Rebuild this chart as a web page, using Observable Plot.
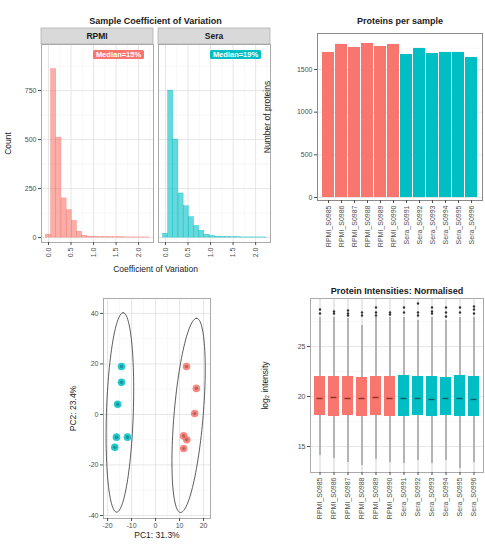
<!DOCTYPE html>
<html><head><meta charset="utf-8">
<script src="https://cdn.jsdelivr.net/npm/d3@7"></script>
<script src="https://cdn.jsdelivr.net/npm/@observablehq/plot@0.6"></script>
<style>
body{margin:0;background:#fff;}
#root{position:relative;width:485px;height:547px;overflow:hidden;background:#fff;}
#root > div{position:absolute;}
</style></head><body><div id="root"></div>
<script>
// ---------- data ----------
const groups = ["RPMI", "Sera"];
const groupColors = ["#F8766D", "#00BFC4"];

const cvBinCenters = [0, 0.115, 0.23, 0.345, 0.46, 0.575, 0.69, 0.805, 0.92, 1.035, 1.15, 1.265, 1.38, 1.495, 1.61, 1.725, 1.84, 1.955, 2.07, 2.185];
const cvBinWidth = 0.115;
const rpmiCvCounts = [15, 860, 510, 200, 140, 85, 30, 10, 5, 4, 3, 3, 2, 2, 2, 1, 1, 1, 1, 1];
const seraCvCounts = [20, 750, 500, 225, 160, 105, 60, 35, 15, 8, 5, 4, 3, 2, 2, 1, 1, 1, 1, 1];
const cvMedianLabels = ["Median=15%", "Median=19%"];
const cvXTicks = [0, 0.5, 1, 1.5, 2];
const cvXMinor = [0.25, 0.75, 1.25, 1.75, 2.25];
const cvYTicks = [0, 250, 500, 750];
const cvYMinor = [125, 375, 625, 875];

const samples = ["RPMI_S0985", "RPMI_S0986", "RPMI_S0987", "RPMI_S0988", "RPMI_S0989", "RPMI_S0990",
                 "Sera_S0991", "Sera_S0992", "Sera_S0993", "Sera_S0994", "Sera_S0995", "Sera_S0996"];
const sampleGroups = ["RPMI", "RPMI", "RPMI", "RPMI", "RPMI", "RPMI", "Sera", "Sera", "Sera", "Sera", "Sera", "Sera"];
const proteinCounts = [1700, 1794, 1758, 1805, 1770, 1794, 1676, 1747, 1688, 1700, 1700, 1641];
const proteinTicks = [0, 500, 1000, 1500];

const pcaGroups = ["Sera", "Sera", "Sera", "Sera", "Sera", "Sera", "RPMI", "RPMI", "RPMI", "RPMI", "RPMI", "RPMI"];
const pc1 = [-14.2, -14.2, -15.8, -16.3, -11.7, -17.0, 12.9, 17.0, 16.3, 11.7, 13.0, 11.7];
const pc2 = [19.0, 12.7, 4.0, -9.0, -9.0, -13.0, 19.0, 10.3, 0.4, -8.5, -10.0, -13.5];
const pcTicks = [-40, -20, 0, 20, 40];
const pc1Ticks = [-20, -10, 0, 10, 20];

const boxLow = [14.1, 13.8, 13.4, 13.1, 13.7, 13.4, 13.3, 13.6, 13.3, 13.6, 12.8, 13.4];
const boxQ1 = [18.1, 18.0, 18.1, 18.0, 18.1, 18.0, 18.0, 18.1, 18.0, 18.1, 18.0, 18.0];
const boxMedian = [19.8, 19.9, 19.8, 19.8, 19.9, 19.8, 19.8, 19.8, 19.7, 19.8, 19.8, 19.7];
const boxQ3 = [22.0, 22.0, 22.0, 21.9, 22.0, 22.0, 22.1, 22.0, 22.0, 21.9, 22.1, 22.0];
const boxHigh = [27.9, 27.9, 27.8, 27.1, 27.9, 27.9, 27.9, 27.6, 27.9, 27.6, 27.9, 27.9];
const outlierSample = [0, 0, 1, 1, 2, 2, 2, 3, 3, 4, 4, 4, 5, 5, 6, 6, 7, 7, 7, 8, 8, 8, 9, 9, 9, 10, 10, 11, 11, 11];
const outlierValue = [28.7, 28.3, 28.5, 28.3, 28.6, 28.3, 28.1, 28.4, 28.1, 28.9, 28.4, 28.1, 28.4, 28.2,
                      28.9, 28.4, 29.3, 28.4, 28.1, 28.9, 28.5, 28.3, 28.9, 28.4, 28.0, 28.9, 28.4, 29.0, 28.7, 28.3];
const intensityTicks = [15, 20, 25];

// ---------- helpers ----------
const FONT = '"Liberation Sans", Arial, Helvetica, sans-serif';
const TICK = "#4d4d4d";
const GRID = "#e3e3e3";
const GRID2 = "#f1f1f1";
const FRAME = "#aaaaaa";
const root = document.getElementById("root");
function mount(node, left, top) {
  const d = document.createElement("div");
  d.style.left = left + "px"; d.style.top = top + "px";
  d.appendChild(node); root.appendChild(d);
}
const style = {fontFamily: FONT, overflow: "visible", background: "transparent", fontSize: "7px", color: "#1a1a1a"};
const colorScale = {domain: groups, range: groupColors};
const num = d => String(d);

function stripMark(label, x, y, w, h) {
  return () => {
    const g = d3.create("svg:g");
    g.append("rect").attr("x", x).attr("y", y).attr("width", w).attr("height", h)
      .attr("fill", "#d9d9d9").attr("stroke", FRAME).attr("stroke-width", 0.7);
    g.append("text").attr("x", x + w / 2).attr("y", y + h / 2).attr("dy", "0.35em")
      .attr("text-anchor", "middle").attr("font-size", 8.5).attr("font-weight", "bold")
      .attr("fill", "#1a1a1a").text(label);
    return g.node();
  };
}
function labelMark(text, color, right, top) {
  return () => {
    const g = d3.create("svg:g");
    const w = text.length * 4.7 + 4, h = 9;
    g.append("rect").attr("x", right - w).attr("y", top).attr("width", w).attr("height", h)
      .attr("rx", 1.5).attr("fill", color);
    g.append("text").attr("x", right - w / 2).attr("y", top + h / 2).attr("dy", "0.35em")
      .attr("text-anchor", "middle").attr("font-size", 7.5).attr("font-weight", "bold")
      .attr("fill", "#ffffff").text(text);
    return g.node();
  };
}
function yTitle(text, dx) {
  return Plot.text([text], {frameAnchor: "left", rotate: -90, dx, textAnchor: "middle", fontSize: 8.5, fill: "#1a1a1a"});
}

// ---------- panel 1: CV histograms ----------
function cvPanel(gi, counts, width, mL, mR, first) {
  const bins = cvBinCenters.map((c, i) => ({x1: c - cvBinWidth / 2, x2: c + cvBinWidth / 2, n: counts[i]}));
  const fw = width - mL - mR;
  const marks = [
    Plot.gridY({ticks: cvYMinor, stroke: GRID2, strokeOpacity: 1, strokeWidth: 0.6}),
    Plot.gridX({ticks: cvXMinor, stroke: GRID2, strokeOpacity: 1, strokeWidth: 0.6}),
    Plot.gridY({ticks: cvYTicks, stroke: GRID, strokeOpacity: 1, strokeWidth: 0.9}),
    Plot.gridX({ticks: cvXTicks, stroke: GRID, strokeOpacity: 1, strokeWidth: 0.9}),
    Plot.rectY(bins, {x1: "x1", x2: "x2", y: "n", fill: groupColors[gi], fillOpacity: 0.6, stroke: groupColors[gi], strokeOpacity: 0.8, strokeWidth: 0.4}),
    Plot.frame({stroke: FRAME}),
    Plot.axisX({ticks: cvXTicks, tickFormat: d3.format(".1f"), tickRotate: -90, tickSize: 3, tickPadding: 2, fontSize: 7, color: TICK, label: null}),
    stripMark(groups[gi], mL, 28, fw, 16),
    labelMark(cvMedianLabels[gi], groupColors[gi], mL + fw - 9, 50)
  ];
  if (first) {
    marks.push(
      Plot.axisY({ticks: cvYTicks, tickFormat: num, tickSize: 3, tickPadding: 2, fontSize: 7, color: TICK, label: null}),
      Plot.text(["Sample Coefficient of Variation"], {frameAnchor: "top", dx: 58, dy: -27, fontSize: 9, fontWeight: "bold", fill: "#1a1a1a"}),
      Plot.text(["Coefficient of Variation"], {frameAnchor: "bottom", dx: 58, dy: 29, fontSize: 8.5, fill: "#1a1a1a"}),
      yTitle("Count", -33)
    );
  }
  return Plot.plot({
    width, height: 275, marginLeft: mL, marginRight: mR, marginTop: 44, marginBottom: 33,
    x: {domain: [-0.155, 2.33]},
    y: first ? {domain: [-25, 985]} : {domain: [-25, 985], axis: null},
    style, marks
  });
}
mount(cvPanel(0, rpmiCvCounts, 155, 41, 2, true), 0, 0);
mount(cvPanel(1, seraCvCounts, 118, 3, 3, false), 155, 0);

// ---------- panel 2: proteins per sample ----------
const proteinRecs = samples.map((s, i) => ({sample: s, group: sampleGroups[i], n: proteinCounts[i]}));
mount(Plot.plot({
  width: 230, height: 270, marginLeft: 62, marginRight: 3, marginTop: 33, marginBottom: 70,
  x: {domain: samples, padding: 0.08},
  y: {domain: [-35, 1922]},
  color: colorScale,
  style,
  marks: [
    Plot.gridY({ticks: [250, 750, 1250, 1750], stroke: GRID2, strokeOpacity: 1, strokeWidth: 0.6}),
    Plot.gridY({ticks: proteinTicks, stroke: GRID, strokeOpacity: 1, strokeWidth: 0.9}),
    Plot.barY(proteinRecs, {x: "sample", y: "n", fill: "group"}),
    Plot.frame({stroke: "#8a8a8a"}),
    Plot.axisX({tickRotate: -90, tickSize: 3, tickPadding: 2, fontSize: 7, color: TICK, label: null}),
    Plot.axisY({ticks: proteinTicks, tickFormat: num, tickSize: 3, tickPadding: 2, fontSize: 7, color: TICK, label: null}),
    Plot.text(["Proteins per sample"], {frameAnchor: "top", dy: -16, fontSize: 9, fontWeight: "bold", fill: "#1a1a1a"}),
    yTitle("Number of proteins", -50)
  ]
}), 255, 0);

// ---------- panel 3: PCA ----------
const pcaRecs = pc1.map((x, i) => ({x, y: pc2[i], group: pcaGroups[i]}));
function ellipsePath(group, k) {
  const pts = pcaRecs.filter(d => d.group === group);
  const n = pts.length, mx = d3.mean(pts, d => d.x), my = d3.mean(pts, d => d.y);
  let sxx = 0, syy = 0, sxy = 0;
  for (const p of pts) { sxx += (p.x - mx) ** 2; syy += (p.y - my) ** 2; sxy += (p.x - mx) * (p.y - my); }
  sxx /= n - 1; syy /= n - 1; sxy /= n - 1;
  const a = Math.sqrt(syy), b = sxy / a, c = Math.sqrt(Math.max(sxx - b * b, 0));
  return d3.range(0, 121).map(i => {
    const t = (i / 120) * 2 * Math.PI;
    return {x: mx + k * (b * Math.cos(t) + c * Math.sin(t)), y: my + k * a * Math.cos(t), group};
  });
}
mount(Plot.plot({
  width: 155, height: 257, marginLeft: 43, marginRight: 5, marginTop: 8, marginBottom: 29,
  x: {domain: [-21.7, 22.9]},
  y: {domain: [-41.2, 45.9]},
  color: colorScale,
  style,
  marks: [
    Plot.gridX({ticks: [-15, -5, 5, 15], stroke: GRID2, strokeOpacity: 1, strokeWidth: 0.6}),
    Plot.gridY({ticks: [-30, -10, 10, 30], stroke: GRID2, strokeOpacity: 1, strokeWidth: 0.6}),
    Plot.gridX({ticks: pc1Ticks, stroke: GRID, strokeOpacity: 1, strokeWidth: 0.9}),
    Plot.gridY({ticks: pcTicks, stroke: GRID, strokeOpacity: 1, strokeWidth: 0.9}),
    Plot.line(ellipsePath("Sera", 3.0), {x: "x", y: "y", stroke: "#333", strokeWidth: 0.8, curve: "linear"}),
    Plot.line(ellipsePath("RPMI", 3.0), {x: "x", y: "y", stroke: "#333", strokeWidth: 0.8, curve: "linear"}),
    Plot.dot(pcaRecs, {x: "x", y: "y", r: 3.8, fill: "group", fillOpacity: 0.85}),
    Plot.dot(pcaRecs, {x: "x", y: "y", r: 1.8, fill: "#000", fillOpacity: 0.25}),
    Plot.frame({stroke: FRAME}),
    Plot.axisX({ticks: pc1Ticks, tickFormat: num, tickSize: 3, tickPadding: 2, fontSize: 7, color: TICK, label: null}),
    Plot.axisY({ticks: pcTicks, tickFormat: num, tickSize: 3, tickPadding: 2, fontSize: 7, color: TICK, label: null}),
    Plot.text(["PC1: 31.3%"], {frameAnchor: "bottom", dy: 19, fontSize: 8.5, fill: "#1a1a1a"}),
    yTitle("PC2: 23.4%", -30)
  ]
}), 60, 290);

// ---------- panel 4: intensity boxplots ----------
const boxRecs = samples.map((s, i) => ({sample: s, group: sampleGroups[i], lo: boxLow[i], q1: boxQ1[i], med: boxMedian[i], q3: boxQ3[i], hi: boxHigh[i]}));
const outRecs = outlierSample.map((si, i) => ({sample: samples[si], v: outlierValue[i]}));
mount(Plot.plot({
  width: 230, height: 272, marginLeft: 55, marginRight: 2, marginTop: 23, marginBottom: 75,
  x: {domain: samples, padding: 0.2},
  y: {domain: [12.4, 29.8]},
  color: colorScale,
  style,
  marks: [
    Plot.gridY({ticks: [17.5, 22.5, 27.5], stroke: GRID2, strokeOpacity: 1, strokeWidth: 0.6}),
    Plot.gridY({ticks: intensityTicks, stroke: GRID, strokeOpacity: 1, strokeWidth: 0.9}),
    Plot.ruleX(samples, {x: d => d, stroke: GRID, strokeWidth: 1.6}),
    Plot.ruleX(boxRecs, {x: "sample", y1: "q3", y2: "hi", stroke: "#555", strokeWidth: 0.7}),
    Plot.ruleX(boxRecs, {x: "sample", y1: "lo", y2: "q1", stroke: "#555", strokeWidth: 0.7}),
    Plot.barY(boxRecs, {x: "sample", y1: "q1", y2: "q3", fill: "group"}),
    Plot.tickY(boxRecs.filter(d => d.group === "RPMI"), {x: "sample", y: "med", stroke: "#8a2f2a", strokeWidth: 1.4, insetLeft: 2.5, insetRight: 2.5}),
    Plot.tickY(boxRecs.filter(d => d.group === "Sera"), {x: "sample", y: "med", stroke: "#0f5e61", strokeWidth: 1.4, insetLeft: 2.5, insetRight: 2.5}),
    Plot.dot(outRecs, {x: "sample", y: "v", r: 1.2, fill: "#333"}),
    Plot.frame({stroke: FRAME}),
    Plot.axisX({tickRotate: -90, tickSize: 3, tickPadding: 2, fontSize: 7, color: TICK, label: null}),
    Plot.axisY({ticks: intensityTicks, tickFormat: num, tickSize: 3, tickPadding: 2, fontSize: 7, color: TICK, label: null}),
    Plot.text(["Protein Intensities: Normalised"], {frameAnchor: "top", dy: -11, fontSize: 9, fontWeight: "bold", fill: "#1a1a1a"}),
    yTitle("log\u2082 intensity", -45)
  ]
}), 255, 275);
</script>
</body></html>
